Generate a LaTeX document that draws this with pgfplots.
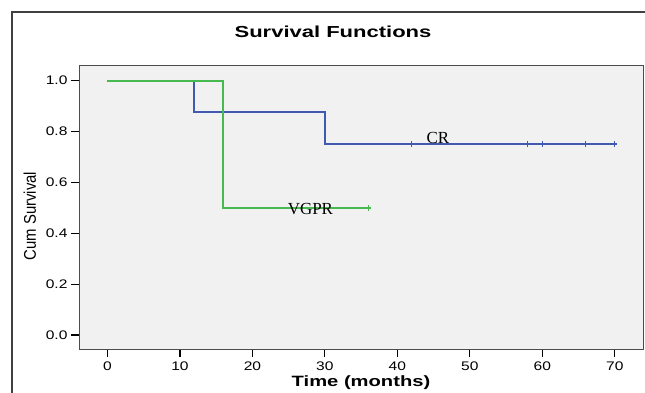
\documentclass[border=0pt]{standalone}
\usepackage{fontspec}
\setmainfont{Liberation Sans}
\newfontfamily\titlefont[FakeStretch=1.38]{Liberation Sans}
\newfontfamily\xlabfont[FakeStretch=1.35]{Liberation Sans}
\newfontfamily\tickfont[FakeStretch=1.25]{Liberation Sans}
\newfontfamily\ylabfont[FakeStretch=0.88]{Liberation Sans}
\newfontfamily\seriffont{Liberation Serif}
\usepackage{pgfplots}
\pgfplotsset{compat=1.18}
\definecolor{crblue}{RGB}{65,90,175}
\definecolor{vgreen}{RGB}{70,185,80}
\definecolor{bggray}{RGB}{241,241,241}
\begin{document}
\begin{tikzpicture}[x=1bp,y=1bp]
\useasboundingbox (0,0) rectangle (645,-392);
\draw[line width=1.2bp, black!75] (12,-400) -- (12,-12) -- (660,-12);
\node[font=\titlefont\bfseries\fontsize{16}{16}\selectfont] at (333,-32) {Survival Functions};
\begin{axis}[at={(79bp,-349bp)}, anchor=south west, scale only axis,
  width=564bp, height=284bp,
  xmin=-3.93, xmax=73.9, ymin=-0.055, ymax=1.061,
  axis background/.style={fill=bggray},
  axis line style={black!70, line width=1bp},
  xtick={0,10,20,30,40,50,60,70},
  ytick={0,0.2,0.4,0.6,0.8,1.0},
  yticklabel style={/pgf/number format/.cd, fixed, precision=1, fixed zerofill},
  /pgf/number format/assume math mode=true,
  tick align=outside, xtick pos=left, ytick pos=left,
  major tick length=8bp,
  tick style={black, line width=1.2bp},
  ticklabel style={font=\tickfont\fontsize{12.5}{12.5}\selectfont},
  xticklabel style={yshift=-1bp},
  xlabel={\bfseries Time (months)},
  xlabel style={font=\xlabfont\fontsize{15}{15}\selectfont, at={(axis description cs:0.5,-0.12)}, anchor=center},
  ylabel={Cum Survival},
  ylabel style={font=\ylabfont\fontsize{17}{17}\selectfont, at={(axis description cs:-0.087,0.468)}, anchor=center},
  clip=false,
]
\addplot[crblue, line width=2bp] coordinates {(0,1)(12,1)(12,0.875)(30,0.875)(30,0.75)(70.3,0.75)};
\addplot[only marks, mark=|, mark size=3bp, crblue, mark options={line width=1bp}] coordinates {(42,0.75)(58,0.75)(60,0.75)(66,0.75)(70,0.75)};
\addplot[vgreen, line width=2bp] coordinates {(0,1)(16,1)(16,0.5)(36.3,0.5)};
\addplot[only marks, mark=|, mark size=3bp, vgreen, mark options={line width=1bp}] coordinates {(36,0.5)};
\node[font=\seriffont\fontsize{17}{17}\selectfont, anchor=base] at (axis cs:45.6,0.752) {CR};
\node[font=\seriffont\fontsize{17}{17}\selectfont, anchor=center] at (axis cs:28,0.497) {VGPR};
\end{axis}
\end{tikzpicture}
\end{document}
